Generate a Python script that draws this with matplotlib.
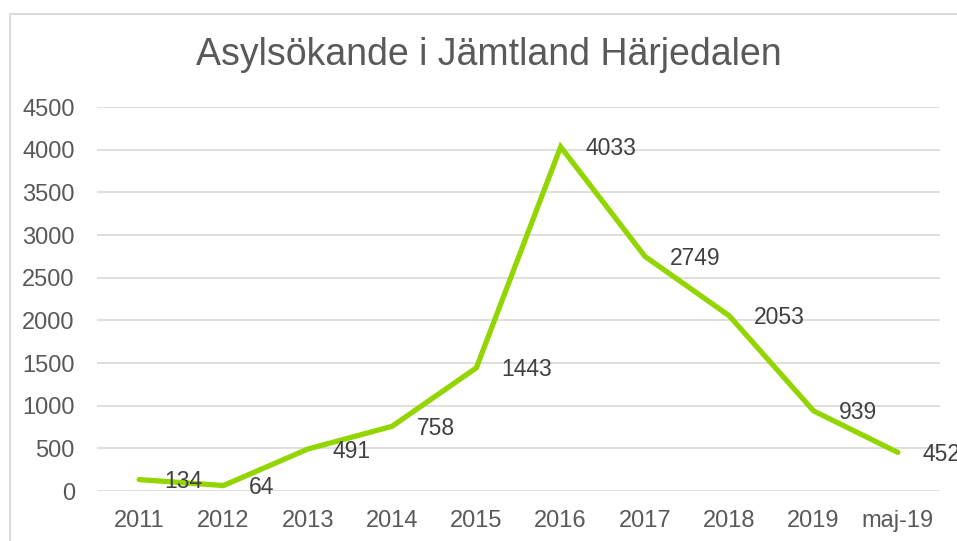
import matplotlib
matplotlib.use("Agg")
import matplotlib.pyplot as plt
from matplotlib.patches import Rectangle

# Chart data
categories = ["2011", "2012", "2013", "2014", "2015", "2016", "2017", "2018", "2019", "maj-19"]
values = [134, 64, 491, 758, 1443, 4033, 2749, 2053, 939, 452]
title = "Asylsökande i Jämtland Härjedalen"

plt.rcParams['font.family'] = ['Liberation Sans', 'DejaVu Sans']

W, H = 957, 541
fig = plt.figure(figsize=(W / 100, H / 100), dpi=100)
fig.patch.set_facecolor('white')

# chart area frame (cropped on the right and bottom)
fig.patches.append(Rectangle((9.5 / W, -0.2), 2.0, (H - 13.5) / H + 0.2,
                             transform=fig.transFigure, fill=False,
                             edgecolor='#D9D9D9', linewidth=1.5, clip_on=False))

ax = fig.add_axes([97 / W, 50 / H, (940 - 97) / W, (434 - 50) / H])
x = list(range(len(categories)))
ax.plot(x, values, color='#93D500', linewidth=3.8, solid_capstyle='round',
        solid_joinstyle='miter', zorder=3)

# labels to the right of each point (the last one runs off the edge, as in the source)
for xi, v in zip(x, values):
    ax.annotate(str(v), (xi, v), xytext=(18, -1.5), textcoords='offset points',
                ha='left', va='center', fontsize=16.5, color='#404040',
                zorder=4, annotation_clip=False)

ax.set_xlim(-0.5, len(categories) - 0.5)
ax.set_ylim(0, 4500)
ax.set_yticks(range(0, 4501, 500))
ax.set_xticks(x)
ax.set_xticklabels(categories)
ax.grid(axis='y', color='#D9D9D9', linewidth=1.2)
ax.set_axisbelow(True)
for s in ax.spines.values():
    s.set_visible(False)
ax.tick_params(axis='both', length=0, labelsize=17, labelcolor='#595959')
ax.tick_params(axis='y', pad=16)
ax.tick_params(axis='x', pad=14)

fig.text(489 / W, 1 - 55 / H, title, ha='center', va='center',
         fontsize=27, color='#595959')

fig.savefig("out.png", dpi=100, facecolor='white')
